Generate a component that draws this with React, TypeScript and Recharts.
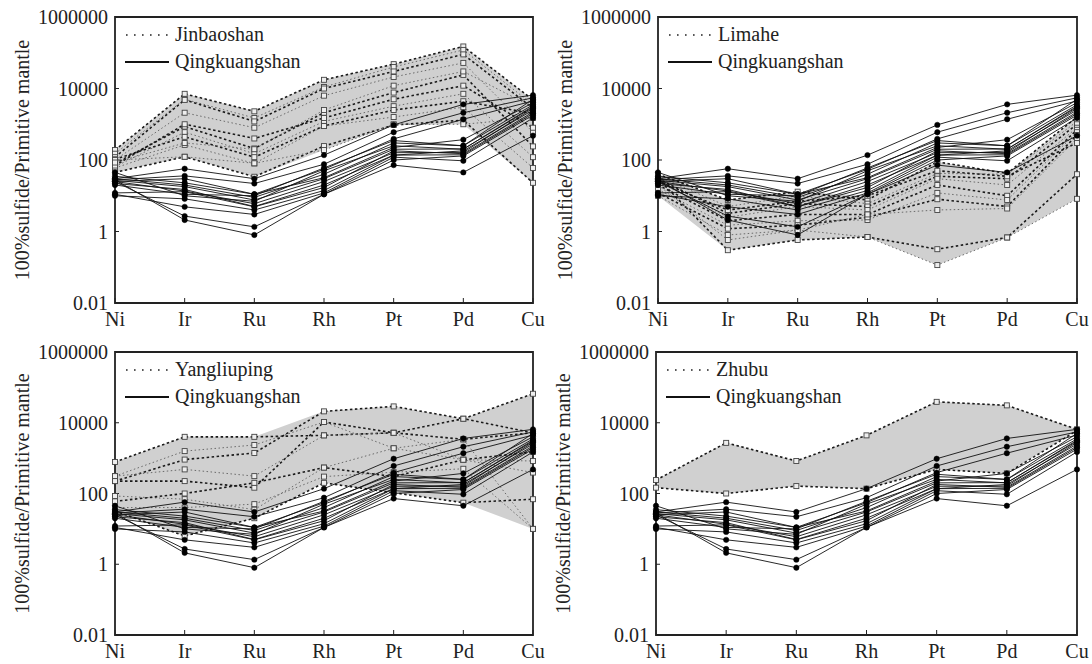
import React from 'react';
import { ComposedChart, Line, Area, XAxis, YAxis, ReferenceArea, Legend, Label } from 'recharts';

const FONT = '"Liberation Serif", "Times New Roman", serif';

const elements = ['Ni', 'Ir', 'Ru', 'Rh', 'Pt', 'Pd', 'Cu'];
const yTicks = [0.01, 1, 100, 10000, 1000000];
const yTitle = '100%sulfide/Primitive mantle';

// Qingkuangshan samples (Ni, Ir, Ru, Rh, Pt, Pd, Cu)
const qingkuangshan: number[][] = [
  [30, 57, 30, 137, 960, 3600, 6500],
  [28, 36, 22, 76, 600, 2100, 5500],
  [25, 30, 11, 55, 390, 1380, 4500],
  [35, 23, 11, 32, 225, 370, 4000],
  [30, 20, 9, 40, 300, 250, 3500],
  [27, 18, 7.6, 30, 200, 203, 3000],
  [25, 13.5, 6, 25, 160, 163, 2800],
  [22, 15, 5, 20, 137, 180, 2500],
  [12, 13, 4.9, 17, 180, 150, 2200],
  [10, 8.2, 4, 14, 137, 140, 2000],
  [11, 4.9, 3, 12, 120, 95, 1500],
  [25, 2.7, 1.35, 11, 100, 130, 1800],
  [28, 2.1, 0.8, 11, 72, 45, 480],
  [45, 10, 7, 50, 250, 200, 3200],
  [20, 11, 10, 60, 350, 250, 5000],
];

const jinbaoshan: number[][] = [
  [190, 7100, 2300, 17500, 48000, 150000, 4800],
  [150, 5000, 1500, 11000, 40000, 120000, 3500],
  [120, 4800, 1200, 10000, 30000, 90000, 2800],
  [100, 2100, 800, 6300, 21000, 52000, 600],
  [80, 860, 210, 2100, 7700, 24000, 240],
  [65, 600, 150, 1200, 3200, 7100, 120],
  [105, 445, 120, 900, 2500, 4400, 2000],
  [60, 265, 80, 890, 1590, 3000, 60],
  [45, 123, 34, 245, 950, 1300, 23],
  [100, 123, 81, 190, 1000, 1000, 1500],
  [70, 1000, 400, 1500, 5000, 12000, 800],
  [85, 300, 200, 2500, 12000, 30000, 3000],
];

const limahe: number[][] = [
  [40, 7.6, 13, 7.6, 89, 42, 1600],
  [35, 5, 10, 6, 42, 40, 1200],
  [30, 3.2, 6, 5, 35, 30, 1000],
  [25, 2.5, 5, 4, 30, 20, 800],
  [20, 2, 3, 3, 20, 10, 700],
  [15, 1.5, 2, 2.1, 12, 7.6, 600],
  [12, 1.2, 1.5, 2.5, 8, 5, 500],
  [10, 0.8, 1.1, 3, 4, 4.4, 400],
  [30, 0.3, 0.58, 0.7, 0.32, 0.68, 40],
  [20, 0.58, 1.1, 0.7, 0.115, 0.68, 8.2],
  [25, 4, 7, 10, 50, 35, 300],
];

const yangliuping: number[][] = [
  [780, 4000, 4000, 4400, 5200, 3400, 5200],
  [310, 1580, 2350, 10500, 1900, 900, 830],
  [224, 910, 1400, 21000, 29000, 13000, 66000],
  [310, 480, 310, 4400, 5200, 900, 390],
  [224, 224, 146, 10500, 5200, 13000, 5200],
  [85, 69, 35, 540, 1900, 3400, 10],
  [32, 6.3, 20, 200, 105, 55, 69],
  [40, 40, 50, 300, 400, 500, 10],
  [60, 100, 200, 540, 300, 900, 1500],
];

const zhubu: number[][] = [
  [240, 2700, 830, 4400, 39000, 31000, 6500],
  [146, 100, 162, 137, 480, 370, 6000],
];

const squareDot = (props: any) => {
  const { cx, cy, index, dataKey } = props;
  const key = `${dataKey}-${index}`;
  if (cx == null || cy == null) return <g key={key} />;
  return (
    <rect key={key} x={cx - 2.5} y={cy - 2.5} width={5} height={5} fill="#eee" stroke="#444" strokeWidth={0.9} />
  );
};

type PanelProps = {
  left: number;
  top: number;
  width: number;
  height: number;
  yWidth: number;
  mTop: number;
  mRight: number;
  name: string;
  comp: number[][];
  allHeavy?: boolean;
};

function Panel({ left, top, width, height, yWidth, mTop, mRight, name, comp, allHeavy }: PanelProps) {
  const data = elements.map((el, i) => {
    const row: any = { el };
    qingkuangshan.forEach((s, k) => (row['q' + k] = s[i]));
    comp.forEach((s, k) => (row['c' + k] = s[i]));
    const vals = comp.map((s) => s[i]);
    row.range = [Math.min(...vals), Math.max(...vals)];
    return row;
  });

  const legendContent = () => (
    <div style={{ fontFamily: FONT, fontSize: 20, color: '#222', lineHeight: '27px' }}>
      <div style={{ display: 'flex', alignItems: 'center', height: 27 }}>
        <svg width={44} height={6}>
          <line x1={1} y1={3} x2={44} y2={3} stroke="#222" strokeWidth={1.6} strokeDasharray="1.6 6.4" />
        </svg>
        <span style={{ marginLeft: 6 }}>{name}</span>
      </div>
      <div style={{ display: 'flex', alignItems: 'center', height: 27 }}>
        <svg width={44} height={6}>
          <line x1={0} y1={3} x2={44} y2={3} stroke="#111" strokeWidth={1.8} />
        </svg>
        <span style={{ marginLeft: 6 }}>Qingkuangshan</span>
      </div>
    </div>
  );

  return (
    <div style={{ position: 'absolute', left, top }}>
      <ComposedChart width={width} height={height} data={data} margin={{ top: mTop, right: mRight, bottom: 0, left: 0 }}>
        <XAxis
          dataKey="el"
          type="category"
          scale="point"
          padding={{ left: 0, right: 0 }}
          interval={0}
          height={29}
          axisLine={false}
          tickSize={-5}
          tickMargin={14}
          tickLine={{ stroke: '#222', strokeWidth: 1 }}
          tick={{ fontFamily: FONT, fontSize: 20, fill: '#222' }}
        />
        <YAxis
          type="number"
          scale="log"
          domain={[0.01, 1000000]}
          ticks={yTicks}
          allowDataOverflow
          width={yWidth}
          axisLine={false}
          tickSize={-4}
          tickMargin={11}
          tickLine={{ stroke: '#222', strokeWidth: 1 }}
          tick={{ fontFamily: FONT, fontSize: 20, fill: '#222' }}
        >
          <Label
            content={(p: any) => {
              const vb = p.viewBox || {};
              const x = vb.x + vb.width - 93;
              const y = vb.y + vb.height / 2;
              return (
                <text
                  x={x}
                  y={y}
                  transform={`rotate(-90 ${x} ${y})`}
                  textAnchor="middle"
                  dominantBaseline="central"
                  fontFamily={FONT}
                  fontSize={20}
                  fill="#222"
                >
                  {yTitle}
                </text>
              );
            }}
          />
        </YAxis>
        <Area
          dataKey="range"
          type="linear"
          fill="#d0d0d0"
          fillOpacity={1}
          stroke="none"
          dot={false}
          activeDot={false}
          isAnimationActive={false}
          legendType="none"
        />
        {comp.map((_, k) => {
          const heavy = allHeavy || k % 2 === 0;
          return (
            <Line
              key={'c' + k}
              dataKey={'c' + k}
              type="linear"
              stroke={heavy ? '#1a1a1a' : '#6a6a6a'}
              strokeWidth={heavy ? 1.6 : 1}
              strokeDasharray={heavy ? '2.5 2.5' : '1.5 2.5'}
              dot={squareDot}
              activeDot={false}
              isAnimationActive={false}
              legendType="none"
            />
          );
        })}
        {qingkuangshan.map((_, k) => (
          <Line
            key={'q' + k}
            dataKey={'q' + k}
            type="linear"
            stroke="#111"
            strokeWidth={0.9}
            dot={{ r: 2.7, fill: '#000', stroke: '#000', strokeWidth: 0.5 }}
            activeDot={false}
            isAnimationActive={false}
            legendType="none"
          />
        ))}
        <ReferenceArea
          x1="Ni"
          x2="Cu"
          y1={0.01}
          y2={1000000}
          fill="none"
          fillOpacity={0}
          stroke="#222"
          strokeWidth={1.8}
          ifOverflow="visible"
        />
        <Legend
          layout="horizontal"
          verticalAlign="middle"
          align="center"
          content={legendContent}
          wrapperStyle={{ left: yWidth + 10, top: mTop + 4, width: 300, height: 54 }}
        />
      </ComposedChart>
    </div>
  );
}

export default function App() {
  return (
    <div style={{ position: 'absolute', left: 0, top: 0, width: 1092, height: 664, background: '#fff' }}>
      <Panel left={0} top={0} width={546} height={332} yWidth={115} mTop={17} mRight={13} name="Jinbaoshan" comp={jinbaoshan} />
      <Panel left={546} top={0} width={546} height={332} yWidth={112} mTop={17} mRight={15} name="Limahe" comp={limahe} />
      <Panel left={0} top={332} width={546} height={332} yWidth={115} mTop={20} mRight={13} name="Yangliuping" comp={yangliuping} />
      <Panel left={546} top={332} width={546} height={332} yWidth={110} mTop={20} mRight={15} name="Zhubu" comp={zhubu} allHeavy />
    </div>
  );
}
